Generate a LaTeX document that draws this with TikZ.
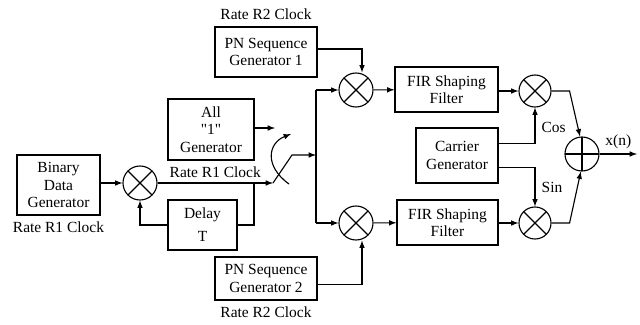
\documentclass[tikz,border=0pt]{standalone}
\usepackage{fontspec}
\setmainfont{Liberation Serif}
\newfontfamily\quotefont{Liberation Serif}
\usetikzlibrary{arrows, positioning}

\begin{document}
\begin{tikzpicture}[x=0.025cm, y=-0.025cm,
		font=\fontsize{11}{12.5}\selectfont,
		blk/.style={rectangle, draw=black, thick, align=center, inner sep=1pt},
		mix/.style={circle, draw=black, thick, minimum size=0.85cm, inner sep=0pt,
			path picture={\draw[thick] (path picture bounding box.north west) -- (path picture bounding box.south east)
				(path picture bounding box.south west) -- (path picture bounding box.north east);}},
		add/.style={circle, draw=black, thick, minimum size=0.85cm, inner sep=0pt,
			path picture={\draw[thick] (path picture bounding box.north) -- (path picture bounding box.south)
				(path picture bounding box.west) -- (path picture bounding box.east);}},
		arrow/.style={-latex, thick}
		]
		\useasboundingbox (0,0) rectangle (640,324);
		
		\node[blk, minimum width=2.075cm, minimum height=1.5cm] (bdg) at (58.5,185) {Binary\\Data\\Generator};
		\node[below=1pt of bdg] (bdgclk) {Rate R1 Clock};
		\node[mix] (mix1) at (140,183) {};
		\node[blk, minimum width=2.15cm, minimum height=1.525cm] (ones) at (211,129.5) {All\\{\quotefont"1"}\\Generator};
		\node[blk, minimum width=1.725cm, minimum height=1.25cm] (delay) at (202.5,225) {Delay\\[4pt]T};
		\node[blk, minimum width=2.55cm, minimum height=1.25cm] (pn1) at (266,52) {PN Sequence\\Generator 1};
		\node[above=1pt of pn1] (pn1clk) {Rate R2 Clock};
		\node[blk, minimum width=2.55cm, minimum height=1.075cm] (pn2) at (266,278.5) {PN Sequence\\Generator 2};
		\node[below=1pt of pn2] (pn2clk) {Rate R2 Clock};
		\node[mix] (mix2) at (356,90) {};
		\node[mix] (mix3) at (356,223) {};
		\node[blk, minimum width=2.575cm, minimum height=1.125cm] (fir1) at (446.5,89.5) {FIR Shaping\\Filter};
		\node[blk, minimum width=2.525cm, minimum height=1.125cm] (fir2) at (447.5,222.5) {FIR Shaping\\Filter};
		\node[blk, minimum width=2.05cm, minimum height=1.375cm] (car) at (457,155.5) {Carrier\\Generator};
		\node[mix, minimum size=0.8cm] (mix4) at (535,91) {};
		\node[mix, minimum size=0.8cm] (mix5) at (535,223) {};
		\node[add] (sum) at (582,154) {};
		
		\coordinate (tap) at (254,183);
		\coordinate (sw) at (273,183);
		\coordinate (onesend) at (275,128);
		\coordinate (bustop) at (316,90);
		\coordinate (busbot) at (316,223);
		\coordinate (xout) at (637,154);
		
		\draw[arrow] (bdg.east |- mix1.west) -- (mix1.west);
		\draw[arrow] (mix1.east) -- node[above]{Rate R1 Clock} (sw);
		\draw[thick] (tap) |- (delay.east);
		\draw[arrow] (delay.west) -| (mix1.south);
		\draw[arrow] (ones.east |- onesend) -- (onesend);
		\draw[arrow] (sw) -- (292,155) -- (bustop |- 0,155);
		\draw[arrow] (289,184) .. controls (264,166) and (268,143) .. (291,134);
		\draw[thick] (bustop) -- (busbot);
		\draw[arrow] (bustop) -- (mix2.west);
		\draw[arrow] (busbot) -- (mix3.west);
		\draw[arrow] ([yshift=0.075cm]pn1.east) -| ([xshift=0.15cm]mix2.north);
		\draw[arrow] ([yshift=-0.15cm]pn2.east) -| ([xshift=0.15cm]mix3.south);
		\draw[arrow] (mix2) -- (fir1);
		\draw[arrow] (mix3) -- (fir2);
		\draw[arrow] (fir1.east |- mix4.west) -- (mix4.west);
		\draw[arrow] (fir2.east |- mix5.west) -- (mix5.west);
		\draw[arrow] ([yshift=0.3cm]car.east) -| node[pos=0.72, right=1pt]{Cos} (mix4.south);
		\draw[arrow] ([yshift=-0.3cm]car.east) -| node[pos=0.75, right=1pt]{Sin} (mix5.north);
		\draw[arrow] (mix4.east) -- ++(18,0) -- ([xshift=-0.05cm]sum.north);
		\draw[arrow] (mix5.east) -- ++(18,0) -- ([xshift=-0.03cm]sum.south);
		\draw[arrow] (sum.east) -- node[above]{x(n)} (xout);
		
	\end{tikzpicture}
\end{document}
